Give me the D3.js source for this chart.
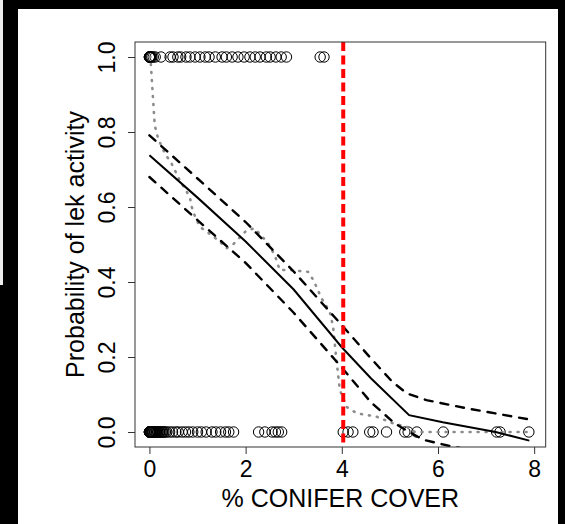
<!DOCTYPE html>
<html>
<head>
<meta charset="utf-8">
<script src="https://cdn.jsdelivr.net/npm/d3@7"></script>
<style>
  html, body { margin: 0; padding: 0; background: #000; }
  svg { display: block; }
  text { font-family: "Liberation Sans", Arial, sans-serif; fill: #000; }
</style>
</head>
<body>
<div id="chart"></div>
<script>
// observed leks: active (1) and inactive (0), by % conifer cover
const activeCover = [0, 0, 0, 0.01, 0.02, 0.03, 0.05, 0.08, 0.12, 0.24, 0.43, 0.49, 0.59, 0.65, 0.76, 0.84, 0.95,
    1.05, 1.16, 1.24, 1.37, 1.51, 1.6, 1.72, 1.84, 1.97, 2.09, 2.2, 2.3, 2.43, 2.51, 2.63, 2.74, 2.85, 3.55, 3.63];
const inactiveCover = [0, 0, 0, 0, 0.01, 0.02, 0.03, 0.04, 0.05, 0.06, 0.07, 0.08, 0.1, 0.11, 0.12, 0.14, 0.15,
    0.17, 0.18, 0.2, 0.22, 0.24, 0.26, 0.28, 0.3, 0.33, 0.36,
    0.42, 0.48, 0.55, 0.6, 0.68, 0.75, 0.82, 0.9, 1.0, 1.08, 1.18, 1.3, 1.38, 1.48, 1.58, 1.65, 1.75,
    2.27, 2.4, 2.55, 2.62, 2.68, 2.75,
    4.03, 4.13, 4.23, 4.58, 4.65, 4.93, 5.31, 5.38, 5.56, 6.11, 7.22, 7.29, 7.89];

// fitted probability and confidence band
const fitX = [0, 1, 2, 3, 4, 4.6, 5.4, 6.1, 7.2, 7.9];
const fitP = [0.738, 0.625, 0.508, 0.38, 0.226, 0.144, 0.045, 0.026, 0.0, -0.023];
const upperX = [0, 1, 2, 3, 4, 4.58, 5.05, 5.35, 5.76, 6.6, 7.88];
const upperP = [0.791, 0.676, 0.56, 0.428, 0.285, 0.2, 0.134, 0.103, 0.085, 0.063, 0.034];
const lowerX = [0, 1, 2, 3, 4, 4.6, 5.1, 5.4, 5.7, 6.2, 7.9];
const lowerP = [0.68, 0.565, 0.451, 0.318, 0.172, 0.08, 0.023, 0.0, -0.021, -0.036, -0.08];

// smoothed observed proportion (grey dotted)
const smoothX = [0, 0.02, 0.11, 0.18, 0.32, 0.46, 0.63, 0.84, 0.88, 0.95, 1.05, 1.29, 1.47, 1.6, 1.74, 2.02, 2.19,
    2.47, 2.61, 2.71, 2.92, 3.3, 3.41, 3.58, 3.75, 3.82, 3.89, 3.96, 4.1, 4.31, 4.72, 5.07, 5.35, 5.52, 7.91];
const smoothP = [1.0, 1.0, 0.818, 0.783, 0.743, 0.716, 0.671, 0.627, 0.6, 0.574, 0.547, 0.525, 0.507, 0.49, 0.5, 0.538, 0.543,
    0.503, 0.47, 0.432, 0.432, 0.427, 0.405, 0.356, 0.321, 0.28, 0.19, 0.112, 0.067, 0.05, 0.041, 0.023, 0.014, 0.0, 0.0];

const threshold = 4.03;
const xTicks = [0, 2, 4, 6, 8];
const yTicks = [0, 0.2, 0.4, 0.6, 0.8, 1.0];

const W = 565, H = 524;
const box = { left: 135, right: 545.7, top: 42, bottom: 447 };

const svg = d3.select("#chart").append("svg")
    .attr("width", W)
    .attr("height", H);

// screenshot framing: black border, light strip, white figure area
svg.append("rect").attr("width", W).attr("height", H).attr("fill", "#000");
svg.append("rect").attr("x", 0).attr("y", 0).attr("width", 3).attr("height", 285).attr("fill", "#ececec");
svg.append("rect").attr("x", 18).attr("y", 9).attr("width", 540).attr("height", H - 9).attr("fill", "#fff");

const x = d3.scaleLinear().domain([-0.3, 8.24]).range([box.left, box.right]);
const y = d3.scaleLinear().domain([-0.04, 1.04]).range([box.bottom, box.top]);

svg.append("clipPath").attr("id", "plot-clip")
    .append("rect")
    .attr("x", box.left).attr("y", box.top)
    .attr("width", box.right - box.left).attr("height", box.bottom - box.top);

const plot = svg.append("g").attr("clip-path", "url(#plot-clip)");

// points
plot.selectAll(".active")
    .data(activeCover)
    .enter()
    .append("circle")
    .attr("cx", d => x(d))
    .attr("cy", y(1))
    .attr("r", 5.2)
    .attr("fill", "none")
    .attr("stroke", "#000")
    .attr("stroke-width", 1);

plot.selectAll(".inactive")
    .data(inactiveCover)
    .enter()
    .append("circle")
    .attr("cx", d => x(d))
    .attr("cy", y(0))
    .attr("r", 5.2)
    .attr("fill", "none")
    .attr("stroke", "#000")
    .attr("stroke-width", 1);

const line = d3.line().x(d => x(d[0])).y(d => y(d[1]));

plot.append("path")
    .datum(d3.zip(smoothX, smoothP))
    .attr("d", line)
    .attr("fill", "none")
    .attr("stroke", "#8c8c8c")
    .attr("stroke-width", 2.6)
    .attr("stroke-linecap", "round")
    .attr("stroke-dasharray", "1,7");

[[upperX, upperP], [lowerX, lowerP]].forEach(([xs, ps]) => {
    plot.append("path")
        .datum(d3.zip(xs, ps))
        .attr("d", line)
        .attr("fill", "none")
        .attr("stroke", "#000")
        .attr("stroke-width", 2.4)
        .attr("stroke-linecap", "round")
        .attr("stroke-dasharray", "8,8");
});

plot.append("path")
    .datum(d3.zip(fitX, fitP))
    .attr("d", line)
    .attr("fill", "none")
    .attr("stroke", "#000")
    .attr("stroke-width", 2);

// threshold line
plot.append("line")
    .attr("x1", x(threshold)).attr("x2", x(threshold))
    .attr("y1", box.top).attr("y2", box.bottom)
    .attr("stroke", "#ff0000")
    .attr("stroke-width", 4)
    .attr("stroke-dasharray", "9,4.5");

// box
svg.append("rect")
    .attr("x", box.left).attr("y", box.top)
    .attr("width", box.right - box.left).attr("height", box.bottom - box.top)
    .attr("fill", "none")
    .attr("stroke", "#333")
    .attr("stroke-width", 1);

// axes
const xAxis = svg.append("g")
    .attr("transform", `translate(0,${box.bottom})`)
    .call(d3.axisBottom(x).tickValues(xTicks).tickFormat(d3.format("d")).tickSize(7));
xAxis.select(".domain").remove();
xAxis.selectAll("line").attr("stroke", "#333");
xAxis.selectAll("text")
    .attr("y", 30).attr("dy", null)
    .style("font-size", "23px")
    .style("font-family", "'Liberation Sans', Arial, sans-serif");

const yAxis = svg.append("g")
    .attr("transform", `translate(${box.left},0)`)
    .call(d3.axisLeft(y).tickValues(yTicks).tickFormat(d3.format(".1f")).tickSize(7));
yAxis.select(".domain").remove();
yAxis.selectAll("line").attr("stroke", "#333");
yAxis.selectAll("text")
    .attr("x", null).attr("dy", null)
    .attr("text-anchor", "middle")
    .attr("transform", "translate(-20,0) rotate(-90)")
    .style("font-size", "23px")
    .style("font-family", "'Liberation Sans', Arial, sans-serif");

// axis titles
svg.append("text")
    .attr("x", (box.left + box.right) / 2)
    .attr("y", 507)
    .attr("text-anchor", "middle")
    .style("font-size", "25px")
    .text("% CONIFER COVER");

svg.append("text")
    .attr("transform", `translate(84,${(box.top + box.bottom) / 2}) rotate(-90)`)
    .attr("text-anchor", "middle")
    .style("font-size", "25px")
    .text("Probability of lek activity");
</script>
</body>
</html>
